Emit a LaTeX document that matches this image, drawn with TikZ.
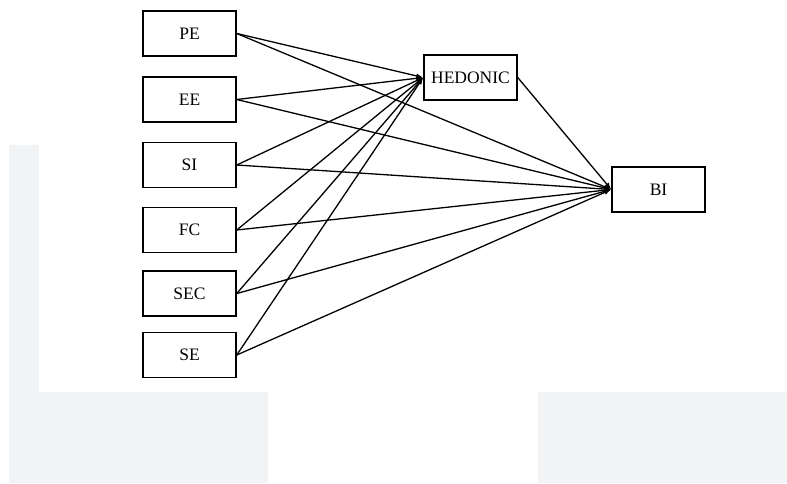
\documentclass[tikz,border=0pt]{standalone}
\usepackage{fontspec}
\setmainfont{Liberation Serif}
\usetikzlibrary{arrows.meta}
\definecolor{panelgray}{HTML}{F2F3F4}

\begin{document}
\begin{tikzpicture}[x=1pt, y=-1pt,
    every node/.style={font=\fontsize{17.5}{20}\selectfont},
    box/.style={draw, line width=1.5pt, minimum width=93pt, minimum height=45pt, inner sep=0pt},
    path/.style={line width=1.3pt, -{Latex[length=7pt, width=5pt]}}]
    \useasboundingbox (0,0) rectangle (787,483);
    % grey panels behind the figure
    \fill [panelgray] (9,145) rectangle (39,483);
    \fill [panelgray] (9,392) rectangle (268,483);
    \fill [panelgray] (538,392) rectangle (787,483);
    \node [box] (pe) at (189.5,33.5) {PE};
    \node [box] (ee) at (189.5,99.5) {EE};
    \node [box] (si) at (189.5,165) {SI};
    \node [box] (fc) at (189.5,230) {FC};
    \node [box] (sec) at (189.5,293.5) {SEC};
    \node [box] (se) at (189.5,355) {SE};
    \node [box] (hedonic) at (470.5,77.5) {HEDONIC};
    \node [box] (bi) at (658.5,189.5) {BI};
    \draw [path] (pe.east) -- (hedonic.west);
    \draw [path] (ee.east) -- (hedonic.west);
    \draw [path] (si.east) -- (hedonic.west);
    \draw [path] (fc.east) -- (hedonic.west);
    \draw [path] (sec.east) -- (hedonic.west);
    \draw [path] (se.east) -- (hedonic.west);
    \draw [path] (pe.east) -- (bi.west);
    \draw [path] (ee.east) -- (bi.west);
    \draw [path] (si.east) -- (bi.west);
    \draw [path] (fc.east) -- (bi.west);
    \draw [path] (sec.east) -- (bi.west);
    \draw [path] (se.east) -- (bi.west);
    \draw [path] (hedonic.east) -- (bi.west);
  \end{tikzpicture}
\end{document}
